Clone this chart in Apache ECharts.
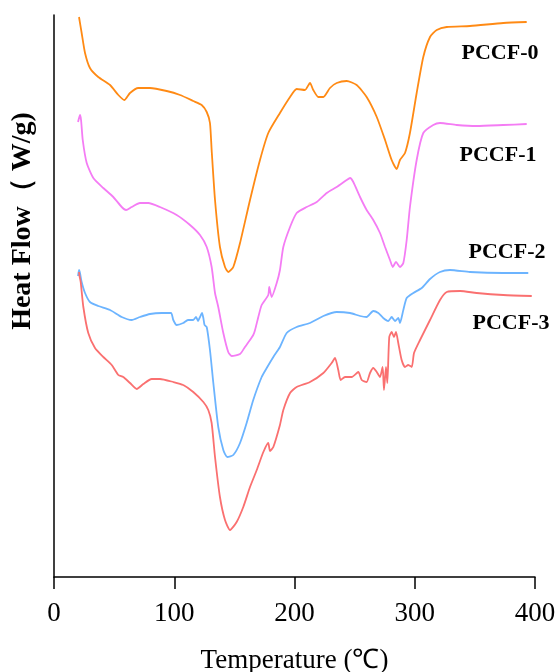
<!DOCTYPE html>
<html>
<head>
<meta charset="utf-8">
<style>
  html, body { margin: 0; padding: 0; background: #fff; }
  #chart { width: 559px; height: 672px; }
</style>
<script src="https://cdn.jsdelivr.net/npm/echarts@6/dist/echarts.min.js"></script>
</head>
<body>
<div id="chart"></div>
<script>
  // 各曲线名称
  const seriesNames = ['PCCF-0', 'PCCF-1', 'PCCF-2', 'PCCF-3']
  const xTicks = [0, 100, 200, 300, 400]

  // [温度, 热流(任意单位)]
  const pccf0 = [
    [20.8, 5.60], [23.0, 5.44], [25.8, 5.24], [29.9, 5.09], [36.8, 5.00], [46.6, 4.92],
    [53.5, 4.82], [58.5, 4.77], [63.2, 4.84], [70.1, 4.89], [79.8, 4.89], [93.7, 4.86],
    [104.8, 4.82], [115.8, 4.76], [122.8, 4.72], [127.0, 4.65], [129.7, 4.54], [131.1, 4.27],
    [133.9, 3.77], [138.0, 3.30], [142.2, 3.10], [145.0, 3.05], [149.1, 3.10], [154.7, 3.34],
    [163.0, 3.77], [171.3, 4.17], [178.2, 4.44], [187.9, 4.64], [196.3, 4.80], [201.8, 4.88],
    [208.7, 4.87], [212.9, 4.94], [215.6, 4.87], [219.8, 4.80], [224.0, 4.80], [229.5, 4.89],
    [235.1, 4.94], [243.4, 4.96], [251.7, 4.92], [260.0, 4.80], [268.4, 4.60], [275.3, 4.37],
    [280.8, 4.17], [285.0, 4.08], [287.7, 4.17], [291.9, 4.24], [296.0, 4.44], [301.6, 4.84],
    [307.1, 5.20], [312.7, 5.40], [318.3, 5.47], [326.6, 5.50], [346.0, 5.51], [373.6, 5.54],
    [393.1, 5.55]
  ]
  const pccf1 = [
    [20.0, 4.55], [21.6, 4.62], [22.5, 4.57], [23.9, 4.37], [27.2, 4.14], [32.7, 3.99],
    [41.0, 3.89], [49.3, 3.80], [56.3, 3.70], [59.9, 3.67], [64.6, 3.70], [71.5, 3.74],
    [78.4, 3.74], [88.1, 3.70], [102.0, 3.62], [113.1, 3.52], [121.4, 3.42], [127.0, 3.30],
    [131.1, 3.10], [133.9, 2.84], [136.6, 2.70], [140.8, 2.44], [144.9, 2.25], [147.8, 2.21],
    [154.7, 2.23], [158.8, 2.30], [163.0, 2.37], [165.7, 2.42], [167.2, 2.47], [169.9, 2.60],
    [172.7, 2.72], [178.2, 2.82], [179.0, 2.90], [181.0, 2.80], [185.2, 2.94], [187.9, 3.07],
    [190.7, 3.30], [196.3, 3.50], [201.8, 3.64], [210.1, 3.70], [218.5, 3.75], [226.8, 3.84],
    [235.1, 3.90], [243.4, 3.97], [246.2, 3.99], [248.9, 3.95], [254.5, 3.80], [260.0, 3.67],
    [265.5, 3.57], [271.1, 3.44], [275.3, 3.30], [279.4, 3.17], [281.7, 3.10], [284.4, 3.15],
    [287.7, 3.10], [290.5, 3.14], [293.3, 3.37], [296.0, 3.70], [301.6, 4.17], [307.1, 4.44],
    [315.4, 4.52], [321.0, 4.54], [334.9, 4.52], [351.5, 4.51], [373.6, 4.52], [393.1, 4.53]
  ]
  const pccf2 = [
    [20.0, 3.01], [20.8, 3.07], [21.6, 3.04], [23.0, 2.95], [25.8, 2.84], [29.9, 2.75],
    [36.8, 2.71], [46.6, 2.67], [56.3, 2.60], [64.6, 2.57], [71.5, 2.60], [79.8, 2.63],
    [89.6, 2.64], [97.3, 2.64], [99.2, 2.57], [102.0, 2.52], [107.5, 2.54], [111.4, 2.57],
    [115.8, 2.57], [118.1, 2.60], [119.8, 2.56], [121.4, 2.60], [123.1, 2.64], [124.2, 2.59],
    [125.2, 2.52], [127.0, 2.50], [129.7, 2.27], [132.5, 1.94], [136.6, 1.50], [140.8, 1.27],
    [144.1, 1.20], [149.1, 1.22], [154.7, 1.34], [160.2, 1.54], [165.7, 1.77], [172.7, 2.00],
    [176.9, 2.09], [182.4, 2.20], [187.9, 2.30], [193.5, 2.44], [201.8, 2.50], [212.9, 2.54],
    [224.0, 2.61], [235.1, 2.65], [246.2, 2.64], [254.5, 2.61], [260.0, 2.60], [265.5, 2.66],
    [269.7, 2.64], [273.8, 2.59], [278.0, 2.56], [280.8, 2.60], [283.6, 2.56], [286.3, 2.59],
    [287.7, 2.54], [290.5, 2.67], [293.3, 2.79], [298.8, 2.84], [305.8, 2.89], [312.7, 2.98],
    [321.0, 3.05], [329.3, 3.07], [345.9, 3.05], [373.6, 3.04], [394.4, 3.04]
  ]
  const pccf3 = [
    [20.8, 3.05], [21.2, 3.01], [22.2, 2.95], [24.4, 2.70], [28.5, 2.44], [34.1, 2.29],
    [41.0, 2.20], [48.0, 2.12], [53.5, 2.02], [57.6, 2.00], [63.2, 1.94], [68.8, 1.88],
    [74.3, 1.93], [81.2, 1.98], [88.1, 1.98], [99.2, 1.95], [107.5, 1.92], [115.8, 1.85],
    [124.2, 1.75], [128.3, 1.67], [131.1, 1.54], [133.9, 1.20], [138.0, 0.80], [142.2, 0.57],
    [146.4, 0.47], [151.9, 0.55], [157.4, 0.70], [163.0, 0.90], [168.6, 1.07], [174.1, 1.25],
    [178.2, 1.34], [179.6, 1.26], [182.4, 1.30], [187.9, 1.52], [190.7, 1.67], [196.3, 1.84],
    [201.8, 1.90], [212.9, 1.95], [224.0, 2.04], [230.9, 2.14], [233.7, 2.19], [236.4, 2.07],
    [238.4, 1.97], [242.0, 2.00], [247.6, 2.00], [253.1, 2.05], [255.9, 1.97], [260.0, 1.95],
    [262.8, 2.04], [265.5, 2.09], [268.4, 2.05], [271.1, 2.00], [273.3, 2.10], [274.4, 1.87],
    [276.1, 2.10], [277.2, 1.94], [278.8, 2.40], [280.8, 2.45], [282.7, 2.40], [284.4, 2.45],
    [286.3, 2.34], [289.1, 2.17], [291.9, 2.10], [294.6, 2.12], [297.5, 2.10], [299.4, 2.24],
    [304.4, 2.37], [312.7, 2.57], [321.0, 2.77], [326.6, 2.85], [337.7, 2.86], [351.5, 2.84],
    [373.6, 2.82], [397.3, 2.81]
  ]

  const seriesData = [pccf0, pccf1, pccf2, pccf3]
  const colors = ['#FF8A14', '#F47CF4', '#6CB4FF', '#FA7070']
  // 曲线标签的位置
  const labelPos = [[500, 53], [498, 155], [507, 252], [511, 323]]

  const chart = echarts.init(document.getElementById('chart'))
  const option = {
    animation: false,
    grid: {
      left: 54,
      right: 24,
      top: 15,
      bottom: 95,
      outerBoundsMode: 'none'
    },
    xAxis: {
      type: 'value',
      min: xTicks[0],
      max: xTicks[xTicks.length - 1],
      interval: 100,
      name: 'Temperature (℃)',
      nameLocation: 'middle',
      nameGap: 70,
      nameTextStyle: {
        fontFamily: 'Liberation Serif',
        fontSize: 27,
        color: '#000'
      },
      axisLine: { onZero: false, lineStyle: { color: '#000', width: 1.5 } },
      axisTick: { length: 12, lineStyle: { color: '#000', width: 1.5 } },
      axisLabel: {
        margin: 23,
        fontFamily: 'Liberation Serif',
        fontSize: 27,
        color: '#000'
      },
      splitLine: { show: false }
    },
    yAxis: {
      type: 'value',
      min: 0,
      max: 5.62,
      axisLine: { show: true, lineStyle: { color: '#000', width: 1.5 } },
      axisTick: { show: false },
      axisLabel: { show: false },
      splitLine: { show: false }
    },
    graphic: [
      {
        type: 'text',
        x: 23,
        y: 221,
        rotation: Math.PI / 2,
        style: {
          text: 'Heat Flow（ W/g)',
          fontFamily: 'Liberation Serif',
          fontWeight: 'bold',
          fontSize: 28,
          fill: '#000',
          align: 'center',
          verticalAlign: 'middle'
        }
      }
    ].concat(seriesNames.map((name, i) => ({
      type: 'text',
      x: labelPos[i][0],
      y: labelPos[i][1],
      style: {
        text: name,
        fontFamily: 'Liberation Serif',
        fontWeight: 'bold',
        fontSize: 22,
        fill: '#000',
        align: 'center',
        verticalAlign: 'middle'
      }
    }))),
    series: seriesNames.map((name, i) => ({
      name: name,
      type: 'line',
      data: seriesData[i],
      showSymbol: false,
      smooth: 0.2,
      lineStyle: { color: colors[i], width: 1.8 },
      itemStyle: { color: colors[i] }
    }))
  }
  chart.setOption(option)
</script>
</body>
</html>
